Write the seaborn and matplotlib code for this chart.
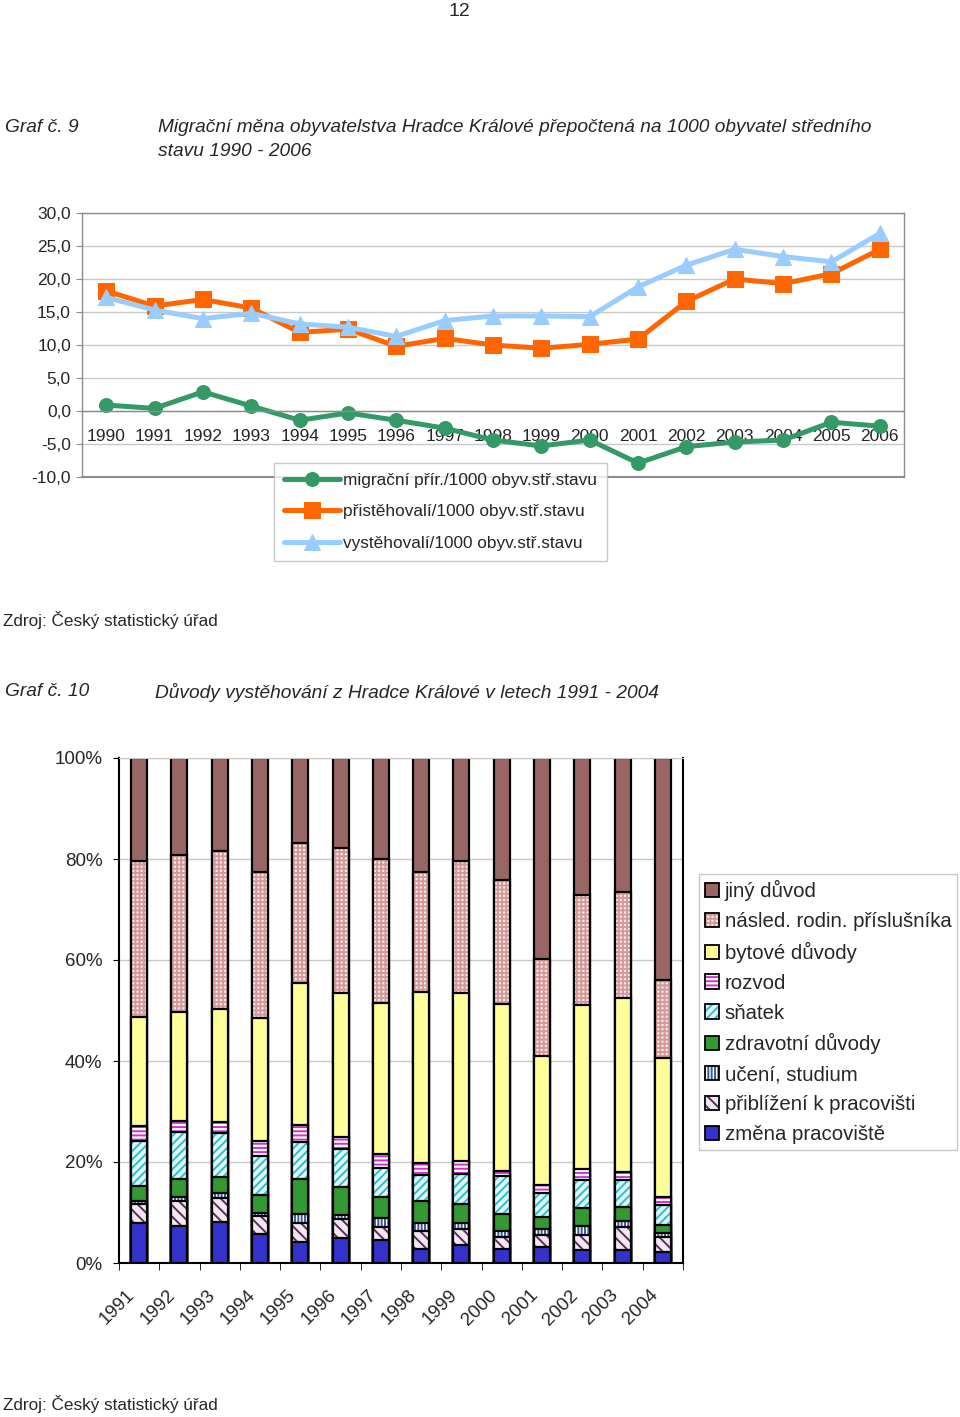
import numpy as np
import pandas as pd
import matplotlib
matplotlib.use("Agg")
import matplotlib.pyplot as plt
import seaborn as sns
from matplotlib.ticker import FuncFormatter, FixedLocator, NullFormatter
import matplotlib.patches as mpatches
import matplotlib.transforms as mtransforms
from matplotlib.legend_handler import HandlerTuple

# ---------------- data: chart 9 ----------------
years = list(range(1990, 2007))
migracni = [0.9, 0.4, 2.9, 0.75, -1.4, -0.3, -1.4, -2.6, -4.4, -5.3, -4.4, -7.9, -5.4, -4.7, -4.4, -1.7, -2.3]
pristehovali = [18.2, 15.9, 16.9, 15.6, 11.9, 12.4, 9.8, 11.0, 10.0, 9.5, 10.1, 10.9, 16.6, 20.0, 19.3, 20.8, 24.5]
vystehovali = [17.2, 15.3, 14.0, 14.8, 13.2, 12.7, 11.3, 13.7, 14.4, 14.4, 14.3, 18.8, 22.1, 24.5, 23.4, 22.6, 26.9]
line_labels = ["migrační přír./1000 obyv.stř.stavu",
               "přistěhovalí/1000 obyv.stř.stavu",
               "vystěhovalí/1000 obyv.stř.stavu"]

# ---------------- data: chart 10 (percent shares) ----------------
bar_years = [str(y) for y in range(1991, 2005)]
zmena = [7.9, 7.3, 8.1, 5.7, 4.1, 4.9, 4.6, 2.7, 3.5, 2.8, 3.1, 2.5, 2.5, 2.2]
priblizeni = [3.7, 5.0, 4.7, 3.6, 3.8, 3.8, 2.6, 3.7, 3.2, 2.3, 2.4, 3.0, 4.7, 3.0]
uceni = [0.7, 0.7, 1.1, 0.7, 1.9, 0.8, 1.8, 1.6, 1.2, 1.2, 1.2, 1.8, 1.1, 0.7]
zdravotni = [2.9, 3.6, 3.2, 3.5, 6.9, 5.6, 4.0, 4.2, 3.8, 3.5, 2.5, 3.5, 2.7, 1.6]
snatek = [9.0, 9.3, 8.7, 7.7, 7.2, 7.4, 5.8, 5.2, 5.9, 7.4, 4.7, 5.7, 5.4, 4.0]
rozvod = [3.0, 2.2, 2.1, 3.0, 3.4, 2.4, 2.7, 2.5, 2.5, 1.1, 1.6, 2.1, 1.6, 1.5]
bytove = [21.6, 21.7, 22.3, 24.4, 28.1, 28.5, 29.9, 33.8, 33.4, 32.9, 25.4, 32.4, 34.5, 27.5]
nasled = [30.8, 31.0, 31.4, 28.8, 27.7, 28.8, 28.6, 23.8, 26.2, 24.6, 19.2, 21.8, 20.9, 15.5]
jiny = [20.4, 19.2, 18.4, 22.6, 16.9, 17.8, 20.0, 22.5, 20.3, 24.2, 39.9, 27.2, 26.6, 44.0]

# layers bottom -> top: label, values, face colour, hatch, hatch colour
layers = [
    ("změna pracoviště", zmena, "#3333CC", None, None),
    ("přiblížení k pracovišti", priblizeni, "#F4E8F0", "\\\\\\", "#5A2D5A"),
    ("učení, studium", uceni, "#FFFFFF", "|||||", "#3A5A9A"),
    ("zdravotní důvody", zdravotni, "#339933", None, None),
    ("sňatek", snatek, "#DDFAFF", "////", "#33BBCC"),
    ("rozvod", rozvod, "#FFFFFF", "----", "#CC33CC"),
    ("bytové důvody", bytove, "#FFFF99", None, None),
    ("násled. rodin. příslušníka", nasled, "#FAEAEA", "++++", "#D49A9A"),
    ("jiný důvod", jiny, "#996666", None, None),
]

# ---------------- style ----------------
sns.set_style("white")
plt.rcParams["font.family"] = ["Liberation Sans", "DejaVu Sans"]
plt.rcParams["hatch.linewidth"] = 1.4

W, H = 960, 1417
fig = plt.figure(figsize=(W / 100, H / 100), dpi=100)


def fx(x):
    return x / W


def fy(y):
    return 1 - y / H


# ---------------- header texts ----------------
fig.text(fx(459), fy(11), "12", fontsize=14, ha="center", va="center")
fig.text(fx(5), fy(128), "Graf č. 9", fontsize=13.8, style="italic", va="center")
fig.text(fx(158), fy(128), "Migrační měna obyvatelstva Hradce Králové přepočtená na 1000 obyvatel středního",
         fontsize=13.8, style="italic", va="center")
fig.text(fx(158), fy(151), "stavu 1990 - 2006", fontsize=13.8, style="italic", va="center")
fig.text(fx(3), fy(620), "Zdroj: Český statistický úřad", fontsize=12.3, va="center")
fig.text(fx(5), fy(692), "Graf č. 10", fontsize=13.8, style="italic", va="center")
fig.text(fx(155), fy(692), "Důvody vystěhování z Hradce Králové v letech 1991 - 2004",
         fontsize=13.8, style="italic", va="center")
fig.text(fx(3), fy(1404), "Zdroj: Český statistický úřad", fontsize=12.3, va="center")

# ---------------- chart 9: lines ----------------
L, R, T, B = 82, 904, 213, 477
ax1 = fig.add_axes([fx(L), fy(B), fx(R) - fx(L), fy(T) - fy(B)])
frame_c = "#8C8C8C"
grid_c = "#C8C8C8"

sns.lineplot(x=years, y=migracni, ax=ax1, color="#339966", lw=3.6, marker="o", markersize=10,
             markeredgecolor="#339966", label=line_labels[0])
sns.lineplot(x=years, y=pristehovali, ax=ax1, color="#FF6600", lw=3.6, marker="s", markersize=11,
             markeredgecolor="#FF6600", label=line_labels[1])
sns.lineplot(x=years, y=vystehovali, ax=ax1, color="#99CCFF", lw=3.6, marker="^", markersize=12,
             markeredgecolor="#99CCFF", label=line_labels[2])

ax1.set_xlim(1989.5, 2006.5)
ax1.set_ylim(-10, 30)
ax1.set_yticks(np.arange(-10, 31, 5))
ax1.yaxis.set_major_formatter(FuncFormatter(lambda v, p: f"{v:.1f}".replace(".", ",")))
ax1.yaxis.grid(True, color=grid_c, lw=1)
ax1.set_axisbelow(True)
ax1.set_xticks(years)
ax1.set_xticklabels([str(y) for y in years])
ax1.xaxis.set_minor_locator(FixedLocator(np.arange(1989.5, 2007, 1)))
ax1.xaxis.set_minor_formatter(NullFormatter())
ax1.tick_params(axis="x", which="major", length=0, pad=13, labelsize=12.5)
ax1.tick_params(axis="x", which="minor", length=5, direction="out", color=frame_c)
ax1.tick_params(axis="y", length=4, direction="out", color=frame_c, labelsize=12.5, pad=4, left=True)
ax1.spines["bottom"].set_position(("data", 0))
for s in ax1.spines.values():
    s.set_color(frame_c)
    s.set_linewidth(1)
ax1.axhline(-10, color=frame_c, lw=1.5, clip_on=False, zorder=5)
ax1.set_xlabel("")
ax1.set_ylabel("")

h1, l1 = ax1.get_legend_handles_labels()
ax1.get_legend().remove()
leg1 = fig.legend(h1, l1, loc="upper left", bbox_to_anchor=(fx(274), fy(463)), borderaxespad=0,
                  fontsize=12.4, frameon=True, fancybox=False, edgecolor="#BBBBBB",
                  handlelength=3.25, handletextpad=0.15, labelspacing=0.93, borderpad=0.6)
leg1.get_frame().set_linewidth(1)

# ---------------- chart 10: stacked bars ----------------
L2, R2, T2, B2 = 119, 683, 758, 1263
ax2 = fig.add_axes([fx(L2), fy(B2), fx(R2) - fx(L2), fy(T2) - fy(B2)])

cums = np.cumsum(np.array([lay[1] for lay in layers]), axis=0)
legend_handles = []
for k in range(len(layers) - 1, -1, -1):
    label, vals, face, hatch, hcol = layers[k]
    kw = dict(x=bar_years, y=cums[k], ax=ax2, width=0.4, errorbar=None, saturation=1)
    if hatch:
        sns.barplot(**kw, color=face, hatch=hatch, edgecolor=hcol, linewidth=0)
    else:
        sns.barplot(**kw, color=face, edgecolor=face, linewidth=0)
    sns.barplot(**kw, fill=False, color="black", linewidth=1.6)
    fill_h = mpatches.Patch(facecolor=face, hatch=hatch, edgecolor=hcol if hatch else face, linewidth=0)
    out_h = mpatches.Patch(facecolor="none", edgecolor="black", linewidth=1.3)
    legend_handles.append(((fill_h, out_h), label))

ax2.set_xlim(-0.5, len(bar_years) - 0.5)
ax2.set_ylim(0, 100)
ax2.set_yticks(np.arange(0, 101, 20))
ax2.yaxis.set_major_formatter(FuncFormatter(lambda v, p: f"{int(v)}%"))
ax2.yaxis.grid(True, color=grid_c, lw=1)
ax2.set_axisbelow(True)
ax2.xaxis.set_minor_locator(FixedLocator(np.arange(-0.5, len(bar_years), 1)))
ax2.xaxis.set_minor_formatter(NullFormatter())
ax2.tick_params(axis="x", which="major", length=0, pad=17, labelsize=13.5)
ax2.tick_params(axis="x", which="minor", length=5, direction="out", color="black", bottom=True)
ax2.tick_params(axis="y", length=4, direction="out", color="black", labelsize=13.5, pad=8, left=True)
shift = mtransforms.ScaledTranslation(-13 / 100, 0, fig.dpi_scale_trans)
for lab in ax2.get_xticklabels():
    lab.set_rotation(45)
    lab.set_ha("right")
    lab.set_rotation_mode("anchor")
    lab.set_transform(lab.get_transform() + shift)
for side in ["left", "bottom", "right"]:
    ax2.spines[side].set_color("black")
    ax2.spines[side].set_linewidth(1.5)
ax2.spines["top"].set_color(grid_c)
ax2.set_xlabel("")
ax2.set_ylabel("")

leg2 = fig.legend([h for h, _ in legend_handles], [l for _, l in legend_handles],
                  handler_map={tuple: HandlerTuple(ndivide=1)},
                  loc="upper left", bbox_to_anchor=(fx(699), fy(874)), borderaxespad=0,
                  fontsize=14.7, frameon=True, fancybox=False, edgecolor="#BBBBBB",
                  handlelength=0.7, handleheight=0.7, handletextpad=0.25, labelspacing=0.53,
                  borderpad=0.3)
leg2.get_frame().set_linewidth(1)

fig.savefig("out.png", dpi=100, facecolor="white")
